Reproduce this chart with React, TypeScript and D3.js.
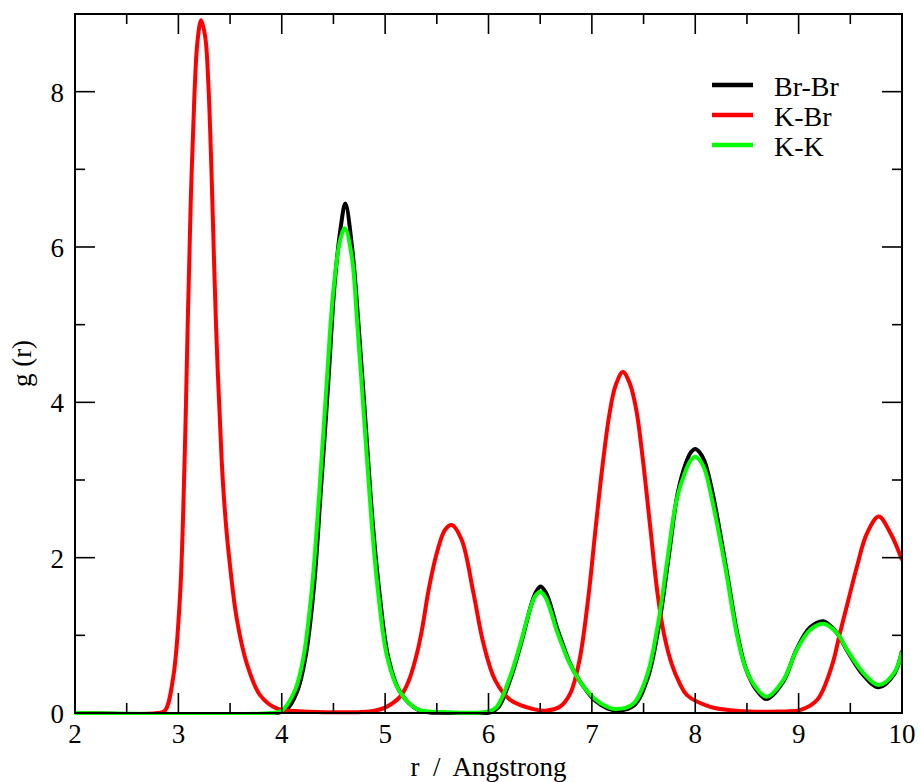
import React from "react";
import * as d3 from "d3";

// ---- data ----
const seriesNames = ["Br-Br", "K-Br", "K-K"];
const seriesColors = ["#000000", "#ff0000", "#00ff00"];

const brbrR = [2.0, 3.95, 4.05, 4.15, 4.23, 4.31, 4.38, 4.45, 4.51, 4.57, 4.615, 4.68, 4.74, 4.81, 4.88, 4.945, 5.03, 5.14, 5.32, 5.6, 6.02, 6.1, 6.22, 6.32, 6.41, 6.46, 6.505, 6.555, 6.605, 6.655, 6.715, 6.775, 6.855, 6.93, 7.03, 7.15, 7.25, 7.41, 7.54, 7.645, 7.74, 7.83, 7.91, 7.96, 8.0, 8.04, 8.09, 8.17, 8.3, 8.41, 8.49, 8.59, 8.69, 8.85, 8.98, 9.11, 9.24, 9.37, 9.47, 9.63, 9.775, 9.92, 10.0];
const brbrG = [0.0, 0.0, 0.05, 0.28, 0.72, 1.6, 2.9, 4.25, 5.5, 6.25, 6.56, 6.0, 5.05, 3.75, 2.45, 1.55, 0.72, 0.28, 0.04, 0.0, 0.01, 0.08, 0.47, 0.92, 1.38, 1.56, 1.63, 1.55, 1.37, 1.13, 0.9, 0.68, 0.47, 0.32, 0.16, 0.06, 0.03, 0.1, 0.45, 1.1, 1.98, 2.83, 3.22, 3.36, 3.4, 3.36, 3.24, 2.82, 1.86, 1.0, 0.57, 0.3, 0.18, 0.4, 0.82, 1.1, 1.18, 1.03, 0.8, 0.48, 0.33, 0.49, 0.8];

const kbrR = [2.0, 2.8, 2.87, 2.95, 3.016, 3.06, 3.09, 3.12, 3.155, 3.185, 3.22, 3.26, 3.29, 3.322, 3.364, 3.419, 3.45, 3.484, 3.564, 3.661, 3.79, 3.95, 4.2, 4.6, 4.85, 5.0, 5.145, 5.23, 5.31, 5.36, 5.42, 5.5, 5.58, 5.645, 5.74, 5.855, 5.95, 6.065, 6.21, 6.435, 6.55, 6.69, 6.79, 6.88, 6.97, 7.03, 7.1, 7.17, 7.23, 7.3, 7.37, 7.43, 7.49, 7.56, 7.635, 7.7, 7.775, 7.85, 7.92, 8.145, 8.4, 8.8, 9.02, 9.18, 9.32, 9.4, 9.48, 9.565, 9.66, 9.775, 9.89, 10.0];
const kbrG = [0.0, 0.0, 0.03, 0.46, 1.51, 3.25, 4.99, 6.6, 7.95, 8.65, 8.92, 8.7, 8.1, 6.9, 5.0, 3.25, 2.6, 2.09, 1.22, 0.64, 0.23, 0.06, 0.02, 0.01, 0.02, 0.07, 0.21, 0.42, 0.78, 1.1, 1.58, 2.06, 2.36, 2.42, 2.23, 1.54, 0.9, 0.42, 0.17, 0.05, 0.03, 0.08, 0.25, 0.68, 1.54, 2.3, 3.15, 3.85, 4.22, 4.39, 4.23, 3.9, 3.3, 2.45, 1.54, 1.0, 0.62, 0.38, 0.23, 0.08, 0.03, 0.02, 0.04, 0.17, 0.6, 1.03, 1.45, 1.89, 2.31, 2.53, 2.31, 1.97];

const kkR = [2.0, 3.9, 4.0, 4.13, 4.21, 4.29, 4.365, 4.43, 4.5, 4.565, 4.61, 4.678, 4.73, 4.8, 4.87, 4.93, 5.02, 5.13, 5.31, 5.6, 6.0, 6.08, 6.21, 6.31, 6.4, 6.45, 6.5, 6.55, 6.6, 6.65, 6.71, 6.77, 6.85, 6.92, 7.02, 7.145, 7.24, 7.4, 7.53, 7.635, 7.73, 7.82, 7.91, 7.96, 8.0, 8.04, 8.09, 8.16, 8.29, 8.4, 8.48, 8.58, 8.69, 8.85, 8.98, 9.11, 9.24, 9.37, 9.47, 9.63, 9.775, 9.92, 10.0];
const kkG = [0.0, 0.0, 0.03, 0.3, 0.72, 1.58, 2.87, 4.16, 5.45, 6.09, 6.24, 5.87, 5.02, 3.73, 2.44, 1.58, 0.72, 0.3, 0.05, 0.01, 0.02, 0.08, 0.47, 0.9, 1.33, 1.5, 1.56, 1.49, 1.32, 1.1, 0.88, 0.68, 0.48, 0.34, 0.19, 0.08, 0.05, 0.12, 0.47, 1.11, 1.97, 2.75, 3.13, 3.26, 3.3, 3.26, 3.14, 2.76, 1.88, 1.03, 0.6, 0.34, 0.21, 0.42, 0.81, 1.07, 1.15, 1.03, 0.81, 0.51, 0.36, 0.51, 0.79];

const xMajorTicks = [2, 3, 4, 5, 6, 7, 8, 9, 10];
const xMinorTicks = [2.5, 3.5, 4.5, 5.5, 6.5, 7.5, 8.5, 9.5];
const yMajorTicks = [0, 2, 4, 6, 8];
const yMinorTicks = [1, 3, 5, 7];
const xTitle = "r  /  Angstrong";
const yTitle = "g (r)";

// ---- layout ----
const W = 921, H = 782;
const L = 75, R = 902, T = 14, B = 713;

export default function App() {
  const x = d3.scaleLinear().domain([2, 10]).range([L, R]);
  const y = d3.scaleLinear().domain([0, 9]).range([B, T]);
  const series = [
    { r: brbrR, g: brbrG },
    { r: kbrR, g: kbrG },
    { r: kkR, g: kkG },
  ];
  const line = d3
    .line<[number, number]>()
    .x((d) => x(d[0]))
    .y((d) => y(d[1]))
    .curve(d3.curveCatmullRom.alpha(0.5));

  const font = "'Liberation Serif', 'Times New Roman', serif";
  const majLen = 20, minLen = 10;

  return (
    <svg
      width={W}
      height={H}
      style={{ position: "absolute", left: 0, top: 0, background: "#fff" }}
      fontFamily={font}
    >
      <rect x={0} y={0} width={W} height={H} fill="#fff" />
      <defs>
        <clipPath id="plotclip">
          <rect x={L} y={T - 10} width={R - L} height={B - T + 12} />
        </clipPath>
      </defs>

      <g clipPath="url(#plotclip)">
        {series.map((s, i) => (
          <path
            key={i}
            d={line(s.r.map((r, k) => [r, s.g[k]] as [number, number])) || ""}
            fill="none"
            stroke={seriesColors[i]}
            strokeWidth={4}
            strokeLinejoin="round"
          />
        ))}
      </g>

      {/* frame */}
      <rect x={L} y={T} width={R - L} height={B - T} fill="none" stroke="#000" strokeWidth={2} />

      {/* x ticks */}
      {xMajorTicks.map((t) => (
        <g key={"xM" + t}>
          <line x1={x(t)} x2={x(t)} y1={B} y2={B - majLen} stroke="#000" strokeWidth={1.6} />
          <line x1={x(t)} x2={x(t)} y1={T} y2={T + majLen} stroke="#000" strokeWidth={1.6} />
          <text x={x(t)} y={743} textAnchor="middle" fontSize={27}>
            {t}
          </text>
        </g>
      ))}
      {xMinorTicks.map((t) => (
        <g key={"xm" + t}>
          <line x1={x(t)} x2={x(t)} y1={B} y2={B - minLen} stroke="#000" strokeWidth={1.6} />
          <line x1={x(t)} x2={x(t)} y1={T} y2={T + minLen} stroke="#000" strokeWidth={1.6} />
        </g>
      ))}

      {/* y ticks */}
      {yMajorTicks.map((t) => (
        <g key={"yM" + t}>
          <line x1={L} x2={L + majLen} y1={y(t)} y2={y(t)} stroke="#000" strokeWidth={1.6} />
          <line x1={R} x2={R - majLen} y1={y(t)} y2={y(t)} stroke="#000" strokeWidth={1.6} />
          <text x={64} y={y(t) + 10} textAnchor="end" fontSize={27}>
            {t}
          </text>
        </g>
      ))}
      {yMinorTicks.map((t) => (
        <g key={"ym" + t}>
          <line x1={L} x2={L + minLen} y1={y(t)} y2={y(t)} stroke="#000" strokeWidth={1.6} />
          <line x1={R} x2={R - minLen} y1={y(t)} y2={y(t)} stroke="#000" strokeWidth={1.6} />
        </g>
      ))}

      {/* axis titles */}
      <text
        x={(L + R) / 2}
        y={776}
        textAnchor="middle"
        fontSize={27}
        style={{ whiteSpace: "pre" }}
      >
        {xTitle}
      </text>
      <text
        transform={`translate(31, ${(T + B) / 2}) rotate(-90)`}
        textAnchor="middle"
        fontSize={27}
        style={{ whiteSpace: "pre" }}
      >
        {yTitle}
      </text>

      {/* legend */}
      {seriesNames.map((n, i) => (
        <g key={n}>
          <line x1={712} x2={753} y1={85 + i * 30} y2={85 + i * 30} stroke={seriesColors[i]} strokeWidth={4.5} />
          <text x={774} y={85 + i * 30 + 10.5} fontSize={28}>
            {n}
          </text>
        </g>
      ))}
    </svg>
  );
}
